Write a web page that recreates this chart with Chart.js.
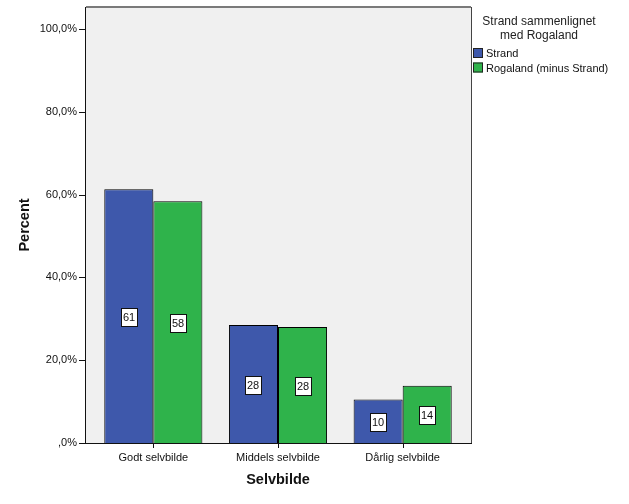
<!DOCTYPE html>
<html>
<head>
<meta charset="utf-8">
<script src="https://cdn.jsdelivr.net/npm/chart.js@4/dist/chart.umd.min.js"></script>
<style>
  body { margin: 0; background: #fff; }
  #wrap { width: 629px; height: 504px; }
</style>
</head>
<body>
<div id="wrap"><canvas id="chart"></canvas></div>
<script>
var categories = ["Godt selvbilde", "Middels selvbilde", "Dårlig selvbilde"];
var strand = [61.3, 28.5, 10.5];
var rogaland = [58.4, 28.0, 13.8];
var strandLabels = ["61", "28", "10"];
var rogalandLabels = ["58", "28", "14"];
var yTicks = [0, 20, 40, 60, 80, 100];
var seriesNames = ["Strand", "Rogaland (minus Strand)"];
var legendTitle = ["Strand sammenlignet", "med Rogaland"];

var FONT = "Arial, 'Liberation Sans', sans-serif";
var BLUE = "#3e58ab";
var GREEN = "#2fb34b";

// frame, axis lines, ticks, value boxes and legend (SPSS look)
var spssLook = {
  id: "spssLook",
  beforeDatasetsDraw: function(chart) {
    var ctx = chart.ctx, a = chart.chartArea;
    var L = 86, R = 471, T = a.top, B = a.bottom;
    ctx.save();
    ctx.fillStyle = "#f0f0f0";
    ctx.fillRect(L, T, R - L, B - T);
    ctx.restore();
  },
  afterDatasetsDraw: function(chart) {
    var ctx = chart.ctx, a = chart.chartArea;
    var L = 86, R = 471, T = a.top, B = a.bottom;
    var y = chart.scales.y, x = chart.scales.x;
    ctx.save();
    // top + right border
    ctx.strokeStyle = "#7a7a7a";
    ctx.lineWidth = 2;
    ctx.beginPath();
    ctx.moveTo(L, T); ctx.lineTo(R, T);
    ctx.stroke();
    ctx.strokeStyle = "#444";
    ctx.lineWidth = 1;
    ctx.beginPath();
    ctx.moveTo(R + 0.5, T); ctx.lineTo(R + 0.5, B);
    ctx.stroke();
    // axis lines
    ctx.strokeStyle = "#111";
    ctx.beginPath();
    ctx.moveTo(L - 0.5, T); ctx.lineTo(L - 0.5, B + 0.5);
    ctx.lineTo(R + 1, B + 0.5);
    ctx.stroke();
    // y ticks
    yTicks.forEach(function(v) {
      var py = Math.round(y.getPixelForValue(v)) + 0.5;
      ctx.beginPath();
      ctx.moveTo(L - 7, py); ctx.lineTo(L, py);
      ctx.stroke();
    });
    // x ticks
    categories.forEach(function(c, i) {
      var px = Math.round(x.getPixelForValue(i)) + 0.5;
      ctx.beginPath();
      ctx.moveTo(px, B); ctx.lineTo(px, B + 5);
      ctx.stroke();
    });

    // value boxes
    ctx.font = "11px " + FONT;
    ctx.textAlign = "center";
    ctx.textBaseline = "middle";
    var labelSets = [strandLabels, rogalandLabels];
    chart.data.datasets.forEach(function(ds, di) {
      var meta = chart.getDatasetMeta(di);
      meta.data.forEach(function(bar, i) {
        var cx = Math.round(bar.x);
        var cy = Math.round((bar.y + bar.base) / 2) + 1;
        ctx.fillStyle = "#fff";
        ctx.fillRect(cx - 8, cy - 9, 16, 18);
        ctx.strokeStyle = "#111";
        ctx.strokeRect(cx - 8 + 0.5, cy - 9 + 0.5, 16, 18);
        ctx.fillStyle = "#111";
        ctx.fillText(labelSets[di][i], cx, cy + 1);
      });
    });

    // legend
    ctx.fillStyle = "#222";
    ctx.font = "12px " + FONT;
    ctx.textAlign = "center";
    ctx.textBaseline = "alphabetic";
    ctx.fillText(legendTitle[0], 539, 25);
    ctx.fillText(legendTitle[1], 539, 39);
    var cols = [BLUE, GREEN];
    ctx.font = "11px " + FONT;
    ctx.textAlign = "left";
    ctx.textBaseline = "middle";
    seriesNames.forEach(function(n, i) {
      var ty = 53 + i * 14.5;
      ctx.fillStyle = cols[i];
      ctx.fillRect(473, ty - 5, 10, 10);
      ctx.strokeStyle = "#222";
      ctx.strokeRect(473.5, ty - 4.5, 9, 9);
      ctx.fillStyle = "#111";
      ctx.fillText(n, 486, ty + 1);
    });
    ctx.restore();
  }
};

new Chart(document.getElementById("chart"), {
  type: "bar",
  data: {
    labels: categories,
    datasets: [
      { label: seriesNames[0], data: strand, backgroundColor: BLUE, borderColor: "#000", borderWidth: 1 },
      { label: seriesNames[1], data: rogaland, backgroundColor: GREEN, borderColor: "#000", borderWidth: 1 }
    ]
  },
  options: {
    responsive: true,
    maintainAspectRatio: false,
    animation: false,
    layout: { padding: { top: 7, right: 164, left: 0, bottom: 0 } },
    plugins: { legend: { display: false }, tooltip: { enabled: false } },
    datasets: { bar: { categoryPercentage: 0.787, barPercentage: 1.0 } },
    scales: {
      x: {
        grid: { display: false, drawTicks: false },
        border: { display: false },
        ticks: { color: "#111", font: { family: FONT, size: 11 }, padding: 8, maxRotation: 0 },
        title: { display: true, text: "Selvbilde", color: "#111", font: { family: FONT, size: 14.5, weight: "bold" }, padding: { top: 0, bottom: 15.5 } },
        afterFit: function(s) { s.height = 61; s.paddingLeft = 0; s.paddingRight = 0; }
      },
      y: {
        min: 0,
        max: 105.3,
        grid: { display: false, drawTicks: false },
        border: { display: false },
        afterBuildTicks: function(s) { s.ticks = yTicks.map(function(v) { return { value: v }; }); },
        ticks: {
          color: "#111",
          font: { family: FONT, size: 11 },
          padding: 14,
          callback: function(v) { return v === 0 ? ",0%" : v.toFixed(1).replace(".", ",") + "%"; }
        },
        title: { display: true, text: "Percent", color: "#111", font: { family: FONT, size: 14.5, weight: "bold" }, padding: { top: 16, bottom: 0 } },
        afterFit: function(s) { s.width = 91; s.paddingTop = 0; s.paddingBottom = 0; }
      }
    }
  },
  plugins: [spssLook]
});
</script>
</body>
</html>
